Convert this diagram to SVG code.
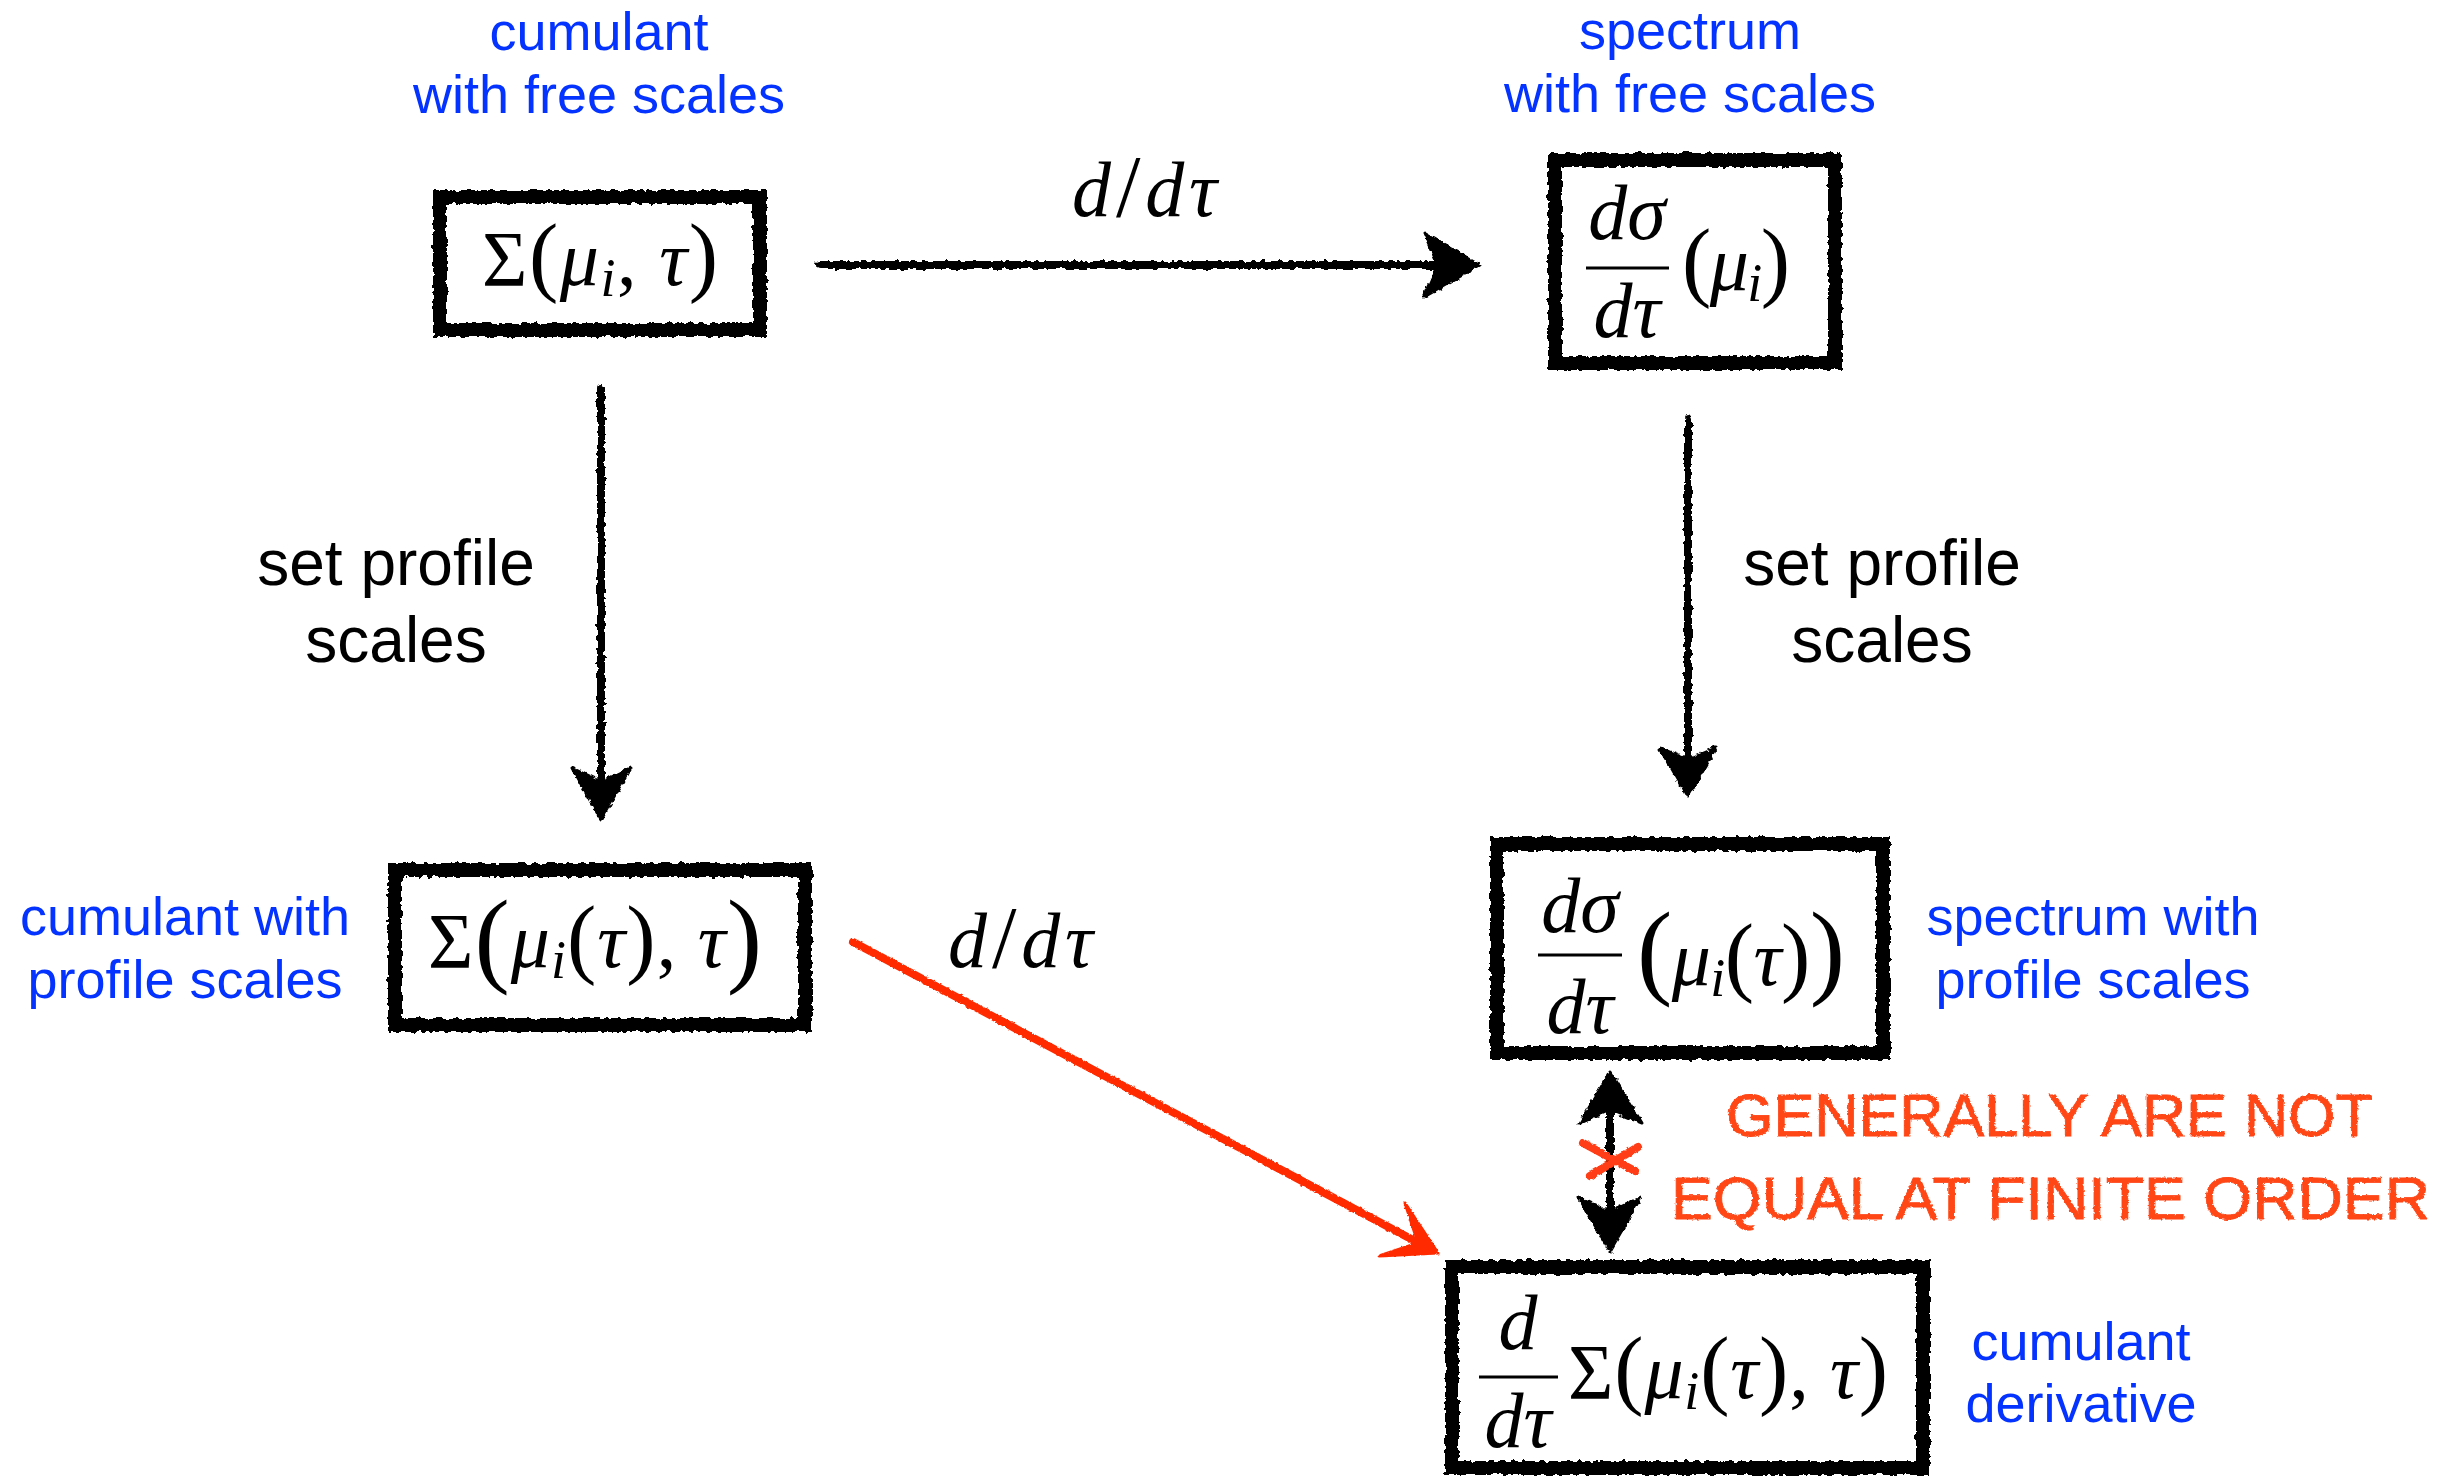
<svg xmlns="http://www.w3.org/2000/svg" width="2453" height="1476" viewBox="0 0 2453 1476">
<style>
.box{fill:#fff;stroke:#000;stroke-width:14;stroke-linejoin:miter}
.m{font-family:"Liberation Serif","DejaVu Serif",serif;font-size:78px;fill:#000}
.it{font-style:italic}
.sub{font-style:italic;font-size:54px}
.p{font-size:88px}
.big{font-size:106px}
.bar{stroke:#000;stroke-width:3}
.blue{font-family:"Liberation Sans",Arial,sans-serif;font-size:54px;fill:#0433ff;text-anchor:middle}
.lbl{font-family:"Liberation Sans",Arial,sans-serif;font-size:64px;fill:#000;text-anchor:middle}
.hand{font-family:"Liberation Sans",Arial,sans-serif;font-size:60px;fill:#ff4616;stroke:#ff4616;stroke-width:0.8}
.shaft{stroke:#000;stroke-width:8;fill:none;stroke-linecap:round}
.head{fill:#000;stroke:#000;stroke-width:3;stroke-linejoin:round}
</style>
<defs>
<filter id="rough" filterUnits="userSpaceOnUse" x="0" y="0" width="2453" height="1476">
<feTurbulence type="fractalNoise" baseFrequency="0.18" numOctaves="2" seed="4" result="n"/>
<feDisplacementMap in="SourceGraphic" in2="n" scale="6" xChannelSelector="R" yChannelSelector="G"/>
</filter>
<filter id="rough2" filterUnits="userSpaceOnUse" x="0" y="0" width="2453" height="1476">
<feTurbulence type="fractalNoise" baseFrequency="0.3" numOctaves="2" seed="7" result="n"/>
<feDisplacementMap in="SourceGraphic" in2="n" scale="3" xChannelSelector="R" yChannelSelector="G"/>
</filter>
</defs>
<rect width="2453" height="1476" fill="#fff"/>

<g id="connectors">
<g filter="url(#rough)">
<line class="shaft" x1="820" y1="265" x2="1470" y2="265"/>
<path class="head" d="M1424,233 L1480,265 L1424,297 L1438,265 Z"/>
<line class="shaft" x1="601" y1="388" x2="601" y2="810"/>
<path class="head" d="M572,768 L601,820 L630,768 L601,782 Z"/>
<line class="shaft" x1="1688" y1="419" x2="1688" y2="788"/>
<path class="head" d="M1660,748 L1688,797 L1716,748 L1688,760 Z"/>
<line class="shaft" x1="1610" y1="1095" x2="1610" y2="1230" stroke-width="9"/>
<path class="head" d="M1580,1123 L1610,1072 L1642,1123 L1610,1110 Z"/>
<path class="head" d="M1578,1197 L1610,1251 L1641,1197 L1610,1212 Z"/>
</g>
<g filter="url(#rough2)">
<line x1="853" y1="942" x2="1428" y2="1248" stroke="#ff2a00" stroke-width="8" stroke-linecap="round"/>
<path d="M1405,1203 L1438,1253 L1379,1256 L1418,1243 Z" fill="#ff2a00" stroke="#ff2a00" stroke-width="3" stroke-linejoin="round"/>
<line x1="1583" y1="1143" x2="1635" y2="1171" stroke="#ff3c14" stroke-width="8" stroke-linecap="round"/>
<line x1="1590" y1="1176" x2="1638" y2="1147" stroke="#ff3c14" stroke-width="8" stroke-linecap="round"/>
</g>
<text class="m" x="1072" y="216" textLength="145"><tspan class="it">d</tspan><tspan class="p">/</tspan><tspan class="it">dτ</tspan></text>
<text class="m" x="948" y="967" textLength="145"><tspan class="it">d</tspan><tspan class="p">/</tspan><tspan class="it">dτ</tspan></text>
<text class="lbl" x="396" y="585">set profile</text>
<text class="lbl" x="396" y="662">scales</text>
<text class="lbl" x="1882" y="585">set profile</text>
<text class="lbl" x="1882" y="662">scales</text>
<g filter="url(#rough2)">
<text class="hand" x="1726" y="1136" textLength="647" lengthAdjust="spacingAndGlyphs">GENERALLY ARE NOT</text>
<text class="hand" x="1671" y="1219" textLength="759" lengthAdjust="spacingAndGlyphs">EQUAL AT FINITE ORDER</text>
</g>
</g>

<g id="n1">
<rect class="box" x="440" y="197" width="320" height="133" filter="url(#rough)"/>
<text class="m" x="482" y="285" textLength="236">Σ<tspan class="p">(</tspan><tspan class="it">μ</tspan><tspan class="sub" dy="11">i</tspan><tspan dy="-11">,</tspan><tspan class="it"> τ</tspan><tspan class="p">)</tspan></text>
<text class="blue" x="599" y="50">cumulant</text>
<text class="blue" x="599" y="113">with free scales</text>
</g>

<g id="n2">
<rect class="box" x="1555" y="160" width="280" height="203" filter="url(#rough)"/>
<text class="m it" x="1627" y="239" text-anchor="middle">dσ</text>
<line class="bar" x1="1586" y1="268" x2="1669" y2="268"/>
<text class="m it" x="1627" y="337" text-anchor="middle">dτ</text>
<text class="m" x="1682" y="290" textLength="108"><tspan class="p">(</tspan><tspan class="it">μ</tspan><tspan class="sub" dy="11">i</tspan><tspan class="p" dy="-11">)</tspan></text>
<text class="blue" x="1690" y="49">spectrum</text>
<text class="blue" x="1690" y="112">with free scales</text>
</g>

<g id="n3">
<rect class="box" x="395" y="870" width="410" height="155" filter="url(#rough)"/>
<text class="m" x="428" y="967" textLength="334">Σ<tspan class="big" dy="6">(</tspan><tspan class="it" dy="-6">μ</tspan><tspan class="sub" dy="11">i</tspan><tspan class="p" dy="-11">(</tspan><tspan class="it">τ</tspan><tspan class="p">)</tspan>,<tspan class="it"> τ</tspan><tspan class="big" dy="6">)</tspan></text>
<text class="blue" x="185" y="935">cumulant with</text>
<text class="blue" x="185" y="998">profile scales</text>
</g>

<g id="n4">
<rect class="box" x="1497" y="844" width="386" height="209" filter="url(#rough)"/>
<text class="m it" x="1580" y="932" text-anchor="middle">dσ</text>
<line class="bar" x1="1538" y1="955" x2="1622" y2="955"/>
<text class="m it" x="1580" y="1033" text-anchor="middle">dτ</text>
<text class="m" x="1637" y="985" textLength="208"><tspan class="big">(</tspan><tspan class="it">μ</tspan><tspan class="sub" dy="11">i</tspan><tspan class="p" dy="-11">(</tspan><tspan class="it">τ</tspan><tspan class="p">)</tspan><tspan class="big">)</tspan></text>
<text class="blue" x="2093" y="935">spectrum with</text>
<text class="blue" x="2093" y="998">profile scales</text>
</g>

<g id="n5">
<rect class="box" x="1452" y="1267" width="471" height="201" filter="url(#rough)"/>
<text class="m it" x="1518" y="1349" text-anchor="middle">d</text>
<line class="bar" x1="1479" y1="1377" x2="1558" y2="1377"/>
<text class="m it" x="1518" y="1447" text-anchor="middle">dτ</text>
<text class="m" x="1568" y="1398" textLength="320">Σ<tspan class="p">(</tspan><tspan class="it">μ</tspan><tspan class="sub" dy="11">i</tspan><tspan class="p" dy="-11">(</tspan><tspan class="it">τ</tspan><tspan class="p">)</tspan>,<tspan class="it"> τ</tspan><tspan class="p">)</tspan></text>
<text class="blue" x="2081" y="1360">cumulant</text>
<text class="blue" x="2081" y="1422">derivative</text>
</g>
</svg>
